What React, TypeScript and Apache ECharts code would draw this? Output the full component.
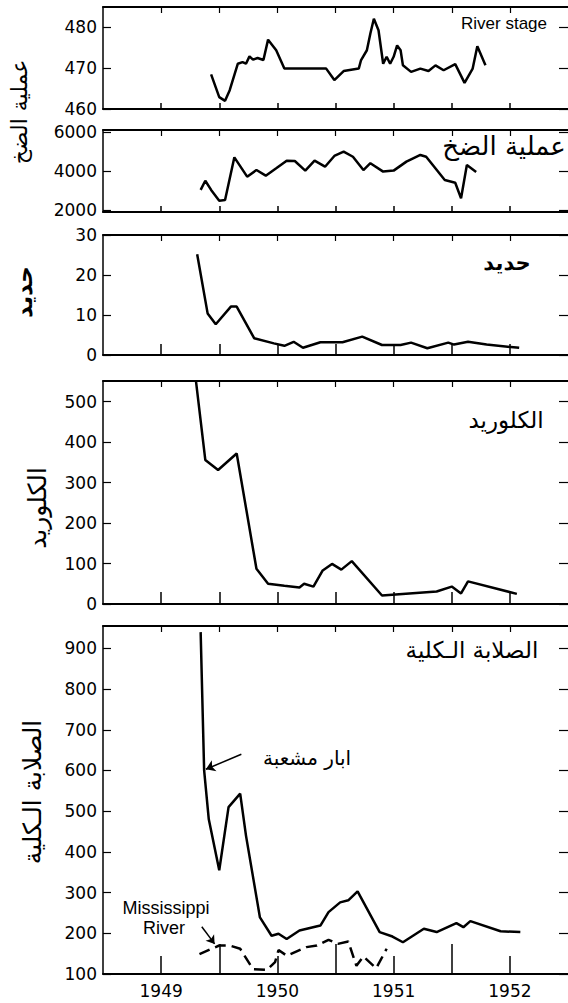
import React, { useEffect, useRef } from "react";
import * as echarts from "echarts";

// ---- Axis ranges / ticks ----
const X_MIN = 1948.5;
const X_MAX = 1952.5;
const yearTicks = [1949, 1950, 1951, 1952];
const halfYearTicks = [1949, 1949.5, 1950, 1950.5, 1951, 1951.5, 1952];
const midYearTicks = [1949.5, 1950.5, 1951.5];

const stageTicks = [460, 470, 480];
const pumpTicks = [2000, 4000, 6000];
const ironTicks = [0, 10, 20, 30];
const chlorideTicks = [0, 100, 200, 300, 400, 500];
const hardTicks = [100, 200, 300, 400, 500, 600, 700, 800, 900];

// ---- Data ----
const stageYears = [1949.43, 1949.5, 1949.55, 1949.59, 1949.66, 1949.7, 1949.73, 1949.76, 1949.79, 1949.83, 1949.88, 1949.92, 1949.99, 1950.06, 1950.42, 1950.49, 1950.57, 1950.7, 1950.72, 1950.77, 1950.8, 1950.83, 1950.87, 1950.91, 1950.94, 1950.97, 1951.0, 1951.03, 1951.06, 1951.08, 1951.15, 1951.23, 1951.3, 1951.36, 1951.43, 1951.53, 1951.61, 1951.68, 1951.72, 1951.79];
const stageValues = [468.5, 462.9, 462.0, 464.6, 471.1, 471.5, 471.1, 472.9, 472.1, 472.5, 472.0, 477.0, 474.4, 469.9, 469.9, 467.1, 469.3, 469.9, 472.0, 474.4, 478.5, 482.1, 479.3, 471.1, 472.8, 471.1, 472.8, 475.6, 474.4, 470.7, 469.1, 469.9, 469.3, 470.7, 469.5, 471.0, 466.4, 469.9, 475.4, 470.7];

const pumpYears = [1949.34, 1949.38, 1949.43, 1949.5, 1949.55, 1949.63, 1949.74, 1949.82, 1949.9, 1949.99, 1950.08, 1950.15, 1950.24, 1950.32, 1950.41, 1950.49, 1950.57, 1950.65, 1950.74, 1950.8, 1950.91, 1951.0, 1951.11, 1951.23, 1951.28, 1951.44, 1951.53, 1951.58, 1951.63, 1951.71];
const pumpValues = [3030, 3500, 3030, 2480, 2510, 4700, 3710, 4050, 3760, 4140, 4530, 4510, 4020, 4530, 4220, 4770, 4990, 4730, 4050, 4400, 3970, 4020, 4480, 4820, 4730, 3540, 3400, 2600, 4310, 3950];

const ironYears = [1949.31, 1949.4, 1949.47, 1949.6, 1949.65, 1949.8, 1949.97, 1950.06, 1950.14, 1950.22, 1950.37, 1950.56, 1950.73, 1950.9, 1951.06, 1951.15, 1951.29, 1951.47, 1951.52, 1951.64, 1951.8, 1952.08];
const ironValues = [25.2, 10.4, 7.7, 12.1, 12.1, 4.2, 2.9, 2.3, 3.3, 1.8, 3.2, 3.2, 4.6, 2.5, 2.5, 3.1, 1.7, 3.1, 2.6, 3.3, 2.6, 1.8];

const chlorideYears = [1949.3, 1949.38, 1949.49, 1949.65, 1949.82, 1949.92, 1950.06, 1950.19, 1950.23, 1950.31, 1950.39, 1950.47, 1950.55, 1950.64, 1950.9, 1951.37, 1951.5, 1951.58, 1951.64, 1952.06];
const chlorideValues = [550, 356, 331, 372, 87, 50, 45, 41, 50, 43, 83, 99, 85, 106, 21, 31, 43, 26, 56, 25];

const hardYears = [1949.34, 1949.37, 1949.41, 1949.5, 1949.58, 1949.68, 1949.73, 1949.85, 1949.95, 1950.01, 1950.08, 1950.19, 1950.37, 1950.44, 1950.54, 1950.61, 1950.69, 1950.88, 1950.99, 1951.08, 1951.26, 1951.37, 1951.54, 1951.6, 1951.66, 1951.92, 1952.09];
const hardValues = [940, 600, 480, 355, 510, 543, 440, 239, 194, 199, 186, 207, 219, 252, 276, 281, 303, 203, 192, 178, 211, 203, 225, 215, 230, 205, 203];

const missYears = [1949.33, 1949.5, 1949.59, 1949.68, 1949.79, 1949.91, 1949.98, 1950.01, 1950.08, 1950.25, 1950.34, 1950.44, 1950.52, 1950.61, 1950.68, 1950.74, 1950.85, 1950.94];
const missValues = [149, 170, 170, 162, 112, 110, 129, 159, 145, 166, 170, 184, 174, 180, 120, 143, 114, 162];

// ---- Text ----
const stageTitle = "River stage";
const pumpTitle = "عملية الضخ";
const ironTitle = "حديد";
const chlorideTitle = "الكلوريد";
const hardTitle = "الصلابة الـكلية";
const wellsNote = "ابار مشعبة";
const missNote1 = "Mississippi";
const missNote2 = "River";

const LATIN = "'Liberation Sans', Arial, sans-serif";
const DIGITS = "'DejaVu Sans', sans-serif";
const ARABIC = "'DejaVu Sans', sans-serif";

const zip = (xs: number[], ys: number[]) => xs.map((x, i) => [x, ys[i]]);

export default function App() {
  const ref = useRef<HTMLDivElement>(null);

  useEffect(() => {
    if (!ref.current) return;
    const chart = echarts.init(ref.current, null, { renderer: "svg" });

    const panels = [
      { top: 7, height: 102, min: 460, max: 485, ticks: stageTicks, bLen: 6 },
      { top: 130, height: 82, min: 1900, max: 6100, ticks: pumpTicks, bLen: 6 },
      { top: 235, height: 120, min: 0, max: 30, ticks: ironTicks, bLen: 11 },
      { top: 381, height: 223, min: 0, max: 551, ticks: chlorideTicks, bLen: 12 },
      { top: 626, height: 348, min: 100, max: 955, ticks: hardTicks, bLen: 18 },
    ];

    const grids: any[] = [];
    const xAxes: any[] = [];
    const yAxes: any[] = [];
    const bottomX: number[] = [];
    const leftY: number[] = [];

    panels.forEach((p, i) => {
      grids.push({ left: 103, right: 4, top: p.top, height: p.height });
      bottomX.push(xAxes.length);
      xAxes.push({
        type: "value",
        gridIndex: i,
        position: "bottom",
        min: X_MIN,
        max: X_MAX,
        interval: 0.5,
        axisLine: { show: true, onZero: false, lineStyle: { color: "#000", width: 2 } },
        axisTick: {
          show: true,
          inside: true,
          length: p.bLen,
          customValues: i === 4 ? yearTicks : halfYearTicks,
          lineStyle: { color: "#000", width: 1.5 },
        },
        axisLabel: {
          show: i === 4,
          customValues: yearTicks,
          formatter: (v: number) => (Number.isInteger(v) ? String(v) : ""),
          fontSize: 17,
          color: "#000",
          margin: 8,
          fontFamily: DIGITS,
        },
        splitLine: { show: false },
      });
      xAxes.push({
        type: "value",
        gridIndex: i,
        position: "top",
        min: X_MIN,
        max: X_MAX,
        interval: 0.5,
        axisLine: { show: true, onZero: false, lineStyle: { color: "#000", width: 2 } },
        axisTick: {
          show: true,
          inside: true,
          length: 6,
          customValues: halfYearTicks,
          lineStyle: { color: "#000", width: 1.2 },
        },
        axisLabel: { show: false },
        splitLine: { show: false },
      });
      if (i === 4) {
        xAxes.push({
          type: "value",
          gridIndex: i,
          position: "bottom",
          min: X_MIN,
          max: X_MAX,
          interval: 0.5,
          axisLine: { show: false },
          axisTick: {
            show: true,
            inside: true,
            length: 30,
            customValues: midYearTicks,
            lineStyle: { color: "#000", width: 1.5 },
          },
          axisLabel: { show: false },
          splitLine: { show: false },
        });
      }
      leftY.push(yAxes.length);
      yAxes.push({
        type: "value",
        gridIndex: i,
        position: "left",
        min: p.min,
        max: p.max,
        axisLine: { show: true, onZero: false, lineStyle: { color: "#000", width: 1.5 } },
        axisTick: {
          show: true,
          inside: true,
          length: 8,
          customValues: p.ticks,
          lineStyle: { color: "#000", width: 1.2 },
        },
        axisLabel: {
          show: true,
          customValues: p.ticks,
          formatter: (v: number) => (p.ticks.indexOf(v) >= 0 ? String(v) : ""),
          fontSize: 17,
          color: "#000",
          margin: 6,
          fontFamily: DIGITS,
        },
        splitLine: { show: false },
      });
      yAxes.push({
        type: "value",
        gridIndex: i,
        position: "right",
        min: p.min,
        max: p.max,
        axisLine: { show: false },
        axisTick: {
          show: true,
          inside: true,
          length: 9,
          customValues: p.ticks,
          lineStyle: { color: "#000", width: 1.2 },
        },
        axisLabel: { show: false },
        splitLine: { show: false },
      });
    });

    const lineStyle = { color: "#000", width: 2.5 };
    const mkLine = (i: number, data: number[][], extra: any = {}) => ({
      type: "line",
      xAxisIndex: bottomX[i],
      yAxisIndex: leftY[i],
      data,
      showSymbol: false,
      symbol: "none",
      lineStyle,
      silent: true,
      ...extra,
    });

    const arrowMark = (from: number[], to: number[]) => [
      { coord: from, symbol: "none" },
      { coord: to, symbol: "arrow" },
    ];

    const series = [
      mkLine(0, zip(stageYears, stageValues)),
      mkLine(1, zip(pumpYears, pumpValues)),
      mkLine(2, zip(ironYears, ironValues)),
      mkLine(3, zip(chlorideYears, chlorideValues)),
      mkLine(4, zip(hardYears, hardValues), {
        markLine: {
          silent: true,
          symbolSize: 9,
          lineStyle: { color: "#000", width: 1.5, type: "solid" },
          label: { show: false },
          data: [arrowMark([1949.69, 640], [1949.385, 603])],
        },
      }),
      mkLine(4, zip(missYears, missValues), {
        lineStyle: { color: "#000", width: 2.5, type: [11, 6] },
        markLine: {
          silent: true,
          symbolSize: 8,
          lineStyle: { color: "#000", width: 1.5, type: "solid" },
          label: { show: false },
          data: [arrowMark([1949.35, 216], [1949.46, 174])],
        },
      }),
    ];

    const txt = (text: string, x: number, y: number, size: number, font: string, extra: any = {}) => ({
      type: "text",
      x,
      y,
      silent: true,
      ...extra,
      style: {
        text,
        fontSize: size,
        fontFamily: font,
        fill: "#000",
        align: "center",
        verticalAlign: "middle",
        ...(extra.style || {}),
      },
    });

    const graphic = [
      txt(stageTitle, 504, 23, 17, LATIN),
      txt(pumpTitle, 504, 146, 26, ARABIC),
      txt(ironTitle, 507, 263, 21, ARABIC, { style: { fontWeight: "bold" } }),
      txt(chlorideTitle, 506, 420, 23, ARABIC),
      txt(hardTitle, 472, 650, 23, ARABIC),
      txt(wellsNote, 307, 758, 20, ARABIC),
      txt(missNote1, 166, 908, 18, LATIN),
      txt(missNote2, 164, 928, 18, LATIN),
      txt(pumpTitle, 19, 112, 22, ARABIC, { rotation: Math.PI / 2 }),
      txt(ironTitle, 24, 292, 23, ARABIC, { rotation: Math.PI / 2, style: { fontWeight: "bold" } }),
      txt(chlorideTitle, 37, 508, 25, ARABIC, { rotation: Math.PI / 2 }),
      txt(hardTitle, 32, 792, 25, ARABIC, { rotation: Math.PI / 2 }),
    ];

    chart.setOption({
      animation: false,
      backgroundColor: "#fff",
      grid: grids,
      xAxis: xAxes,
      yAxis: yAxes,
      series,
      graphic,
    });

    return () => chart.dispose();
  }, []);

  return (
    <div
      style={{
        position: "fixed",
        left: 0,
        top: 0,
        width: 568,
        height: 1003,
        overflow: "hidden",
        background: "#fff",
      }}
    >
      <div ref={ref} style={{ width: 572, height: 1003 }} />
    </div>
  );
}
